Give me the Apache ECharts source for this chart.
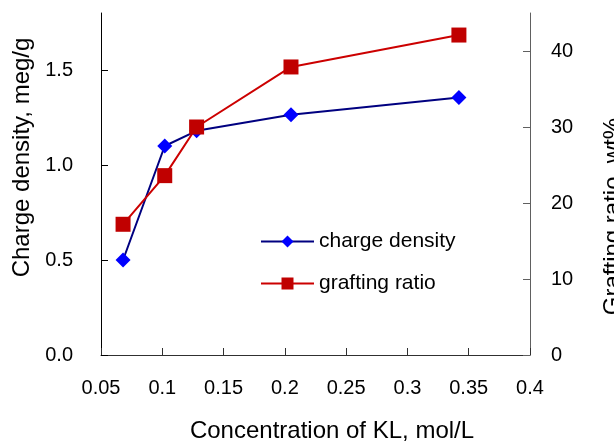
<!DOCTYPE html>
<html>
<head>
<meta charset="utf-8">
<script src="https://cdn.jsdelivr.net/npm/echarts@6/dist/echarts.min.js"></script>
<style>html,body{margin:0;padding:0;background:#fff}#c{width:614px;height:442px}</style>
</head>
<body>
<div id="c"></div>
<script>
const concentration = [0.068, 0.102, 0.128, 0.205, 0.342];
const chargeDensity = [0.50, 1.10, 1.18, 1.265, 1.355];
const graftingRatio = [17.2, 23.6, 30.0, 37.9, 42.1];
const xTicks = [0.05, 0.1, 0.15, 0.2, 0.25, 0.3, 0.35, 0.4];
const leftTicks = [0, 0.5, 1.0, 1.5];
const rightTicks = [0, 10, 20, 30, 40];

const FONT = '"Liberation Sans", Arial, sans-serif';
const chart = echarts.init(document.getElementById('c'));
chart.setOption({
  animation: false,
  backgroundColor: '#fff',
  textStyle: { fontFamily: FONT },
  grid: { left: 101, right: 84, top: 13, bottom: 87, containLabel: false, outerBoundsMode: 'none' },
  legend: {
    orient: 'vertical', left: 260, top: 231, padding: 0,
    itemWidth: 53, itemHeight: 15, itemGap: 21,
    textStyle: { fontSize: 21, color: '#000', fontFamily: FONT },
    data: ['charge density', 'grafting ratio']
  },
  xAxis: {
    type: 'value', min: 0.05, max: 0.4, interval: 0.05,
    name: 'Concentration of KL, mol/L', nameLocation: 'middle', nameGap: 64,
    nameTextStyle: { fontSize: 24, color: '#000', fontFamily: FONT, padding: [0, 0, 0, 33] },
    axisLine: { lineStyle: { color: '#303030', width: 1 } },
    axisTick: { inside: true, length: 7, lineStyle: { color: '#303030' }, customValues: xTicks },
    axisLabel: { fontSize: 20, color: '#000', margin: 23, customValues: xTicks },
    splitLine: { show: false }
  },
  yAxis: [
    {
      type: 'value', min: 0, max: 1.8, interval: 0.5, position: 'left',
      name: 'Charge density, meg/g', nameLocation: 'middle', nameGap: 67, nameRotate: 90,
      nameTextStyle: { fontSize: 24, color: '#000', fontFamily: FONT, padding: [0, 0, 0, 53] },
      axisLine: { show: true, lineStyle: { color: '#000', width: 1 } },
      axisTick: { show: true, inside: true, length: 7, lineStyle: { color: '#000' }, customValues: leftTicks },
      axisLabel: { fontSize: 20, color: '#000', margin: 28, customValues: leftTicks, formatter: v => v.toFixed(1) },
      splitLine: { show: false }
    },
    {
      type: 'value', min: 0, max: 45, interval: 10, position: 'right',
      name: 'Grafting ratio, wt%', nameLocation: 'middle', nameGap: 71, nameRotate: 90,
      nameTextStyle: { fontSize: 24, color: '#000', fontFamily: FONT, padding: [0, 65, 0, 0] },
      axisLine: { show: true, lineStyle: { color: '#606060', width: 1 } },
      axisTick: { show: true, inside: true, length: 7, lineStyle: { color: '#606060' }, customValues: rightTicks },
      axisLabel: { fontSize: 20, color: '#000', margin: 21, customValues: rightTicks },
      splitLine: { show: false }
    }
  ],
  series: [
    {
      name: 'charge density', type: 'line', yAxisIndex: 0,
      data: concentration.map((x, i) => [x, chargeDensity[i]]),
      symbol: 'diamond', symbolSize: 15,
      lineStyle: { color: '#000080', width: 2 },
      itemStyle: { color: '#0000ff' }
    },
    {
      name: 'grafting ratio', type: 'line', yAxisIndex: 1,
      data: concentration.map((x, i) => [x, graftingRatio[i]]),
      symbol: 'rect', symbolSize: 15,
      lineStyle: { color: '#cc0000', width: 2 },
      itemStyle: { color: '#c00000' }
    }
  ]
});
</script>
</body>
</html>
